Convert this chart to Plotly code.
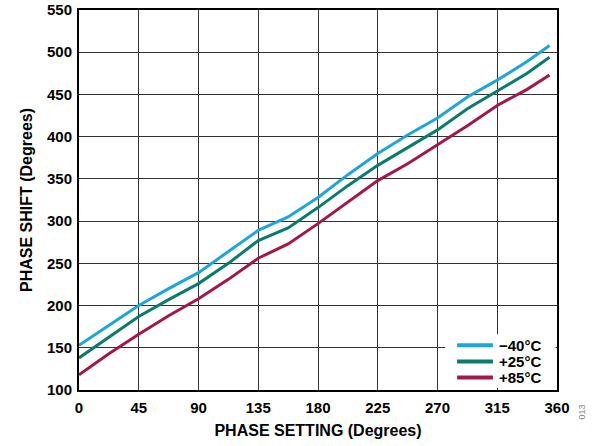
import plotly.graph_objects as go

phase_setting = [0, 22.5, 45, 67.5, 90, 112.5, 135, 157.5, 180, 202.5, 225,
                 247.5, 270, 292.5, 315, 337.5, 354.4]
shift_m40 = [153, 177, 200, 220, 239, 264, 289, 305, 328, 355, 380, 402, 422, 447, 467, 489, 508]
shift_p25 = [138, 163, 187, 207, 226, 250, 277, 292, 316, 342, 366, 387, 408, 433, 454, 475, 494]
shift_p85 = [118, 143, 166, 188, 208, 231, 256, 273, 297, 322, 348, 368, 390, 413, 437, 456, 473]

series_names = ["\u221240\u00b0C", "+25\u00b0C", "+85\u00b0C"]
series_colors = ["#1ea5dc", "#0a7b6e", "#a3184a"]
x_ticks = [0, 45, 90, 135, 180, 225, 270, 315, 360]
y_ticks = [100, 150, 200, 250, 300, 350, 400, 450, 500, 550]

FONT = "Arial, Liberation Sans, sans-serif"

fig = go.Figure()
for name, ys, col in zip(series_names, [shift_m40, shift_p25, shift_p85], series_colors):
    fig.add_trace(go.Scatter(x=phase_setting, y=ys, mode="lines", name=name,
                             line=dict(color=col, width=3), showlegend=False))

axis_common = dict(
    showgrid=True, gridcolor="#333333", gridwidth=1.3,
    showline=True, linecolor="black", linewidth=2, mirror=True,
    ticks="", zeroline=False, automargin=False,
    tickfont=dict(family=FONT, size=15, color="black", weight="bold"),
)

fig.update_layout(
    width=593, height=446,
    margin=dict(l=79, r=36, t=10, b=56),
    paper_bgcolor="white", plot_bgcolor="white",
    showlegend=False,
    xaxis=dict(range=[0, 360], tickvals=x_ticks, ticklabelstandoff=3,
               title=dict(text="PHASE SETTING (Degrees)", standoff=10,
                          font=dict(family=FONT, size=16, color="black", weight="bold")),
               **axis_common),
    yaxis=dict(range=[100, 550], tickvals=y_ticks, ticklabelstandoff=2,
               title=dict(text="PHASE SHIFT (Degrees)", standoff=10,
                          font=dict(family=FONT, size=16, color="black", weight="bold")),
               **axis_common),
)

# manual legend box (compact row spacing like the reference)
fig.add_shape(type="rect", xref="paper", yref="paper", x0=0.766, x1=0.997,
              y0=0.006, y1=0.147, fillcolor="white", line=dict(width=0), layer="above")
row_y = [0.118, 0.075, 0.033]
for name, col, ry in zip(series_names, series_colors, row_y):
    fig.add_shape(type="line", xref="paper", yref="paper", x0=0.791, x1=0.866,
                  y0=ry, y1=ry, line=dict(color=col, width=4), layer="above")
    fig.add_annotation(text=name, xref="paper", yref="paper", x=0.874, y=ry,
                       xanchor="left", yanchor="middle", showarrow=False,
                       font=dict(family=FONT, size=15, color="black", weight="bold"))

fig.add_annotation(text="013", xref="paper", yref="paper", x=1.067, y=-0.084,
                   textangle=-90, showarrow=False,
                   font=dict(family=FONT, size=9, color="#888888"))

fig.write_html("out.html", config={"displayModeBar": False},
               post_script="document.body.style.margin='0';")
